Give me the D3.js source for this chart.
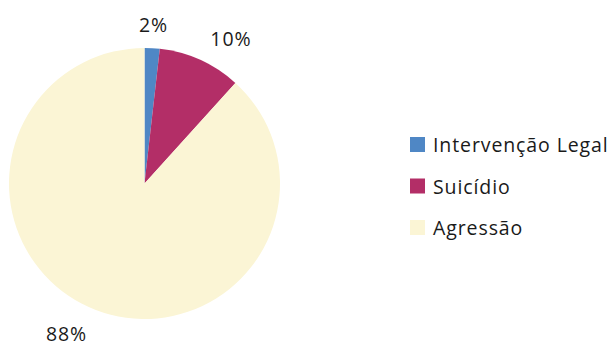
<!DOCTYPE html>
<html>
<head>
<meta charset="utf-8">
<script src="https://cdn.jsdelivr.net/npm/d3@7"></script>
<style>
  body { margin: 0; background: #fff; }
  text { font-family: "Open Sans", sans-serif; font-weight: 400; fill: #1a1a1a; letter-spacing: 0.9px; }
</style>
</head>
<body>
<div id="chart"></div>
<script>
var categories = ['Intervenção Legal', 'Suicídio', 'Agressão'];
var values = [1.8, 9.9, 88.3];
var labels = ['2%', '10%', '88%'];
var colors = ['#4f87c5', '#b32e67', '#fbf5d5'];

var ctx = {
    w: 612,
    h: 347,
    cx: 144.5,
    cy: 183.5,
    r: 135.5,
    labelR: 160,
};

var svgEl = d3.select("#chart").append("svg")
    .attr("width", ctx.w)
    .attr("height", ctx.h);

var data = categories.map(function(c, i) {
    return { name: c, value: values[i], label: labels[i], color: colors[i] };
});

var pie = d3.pie()
    .sort(null)
    .value(d => d.value);

var arc = d3.arc()
    .innerRadius(0)
    .outerRadius(ctx.r);

var labelArc = d3.arc()
    .innerRadius(ctx.labelR)
    .outerRadius(ctx.labelR);

var pieG = svgEl.append("g")
    .attr("transform", "translate(" + ctx.cx + "," + ctx.cy + ")");

var arcs = pie(data);

pieG.selectAll("path")
    .data(arcs)
    .enter()
    .append("path")
    .attr("d", arc)
    .attr("fill", d => d.data.color);

// labels sit just outside the rim, anchored on the side facing away from the pie
var anchorFor = function(d) {
    var s = Math.sin((d.startAngle + d.endAngle) / 2);
    if (s > 0.2) return "start";
    if (s < -0.2) return "end";
    return "middle";
};

pieG.selectAll("text")
    .data(arcs)
    .enter()
    .append("text")
    .attr("transform", d => "translate(" + labelArc.centroid(d) + ")")
    .attr("text-anchor", anchorFor)
    .attr("dy", "0.42em")
    .attr("font-size", "19.5px")
    .text(d => d.data.label);

// legend
var legend = svgEl.append("g")
    .attr("transform", "translate(410,137)");

var rowH = 41.5;

legend.selectAll("rect")
    .data(data)
    .enter()
    .append("rect")
    .attr("x", 0)
    .attr("y", (d, i) => i * rowH)
    .attr("width", 15)
    .attr("height", 15)
    .attr("fill", d => d.color);

legend.selectAll("text")
    .data(data)
    .enter()
    .append("text")
    .attr("x", 23)
    .attr("y", (d, i) => i * rowH + 15)
    .attr("font-size", "19.5px")
    .text(d => d.name);
</script>
</body>
</html>
